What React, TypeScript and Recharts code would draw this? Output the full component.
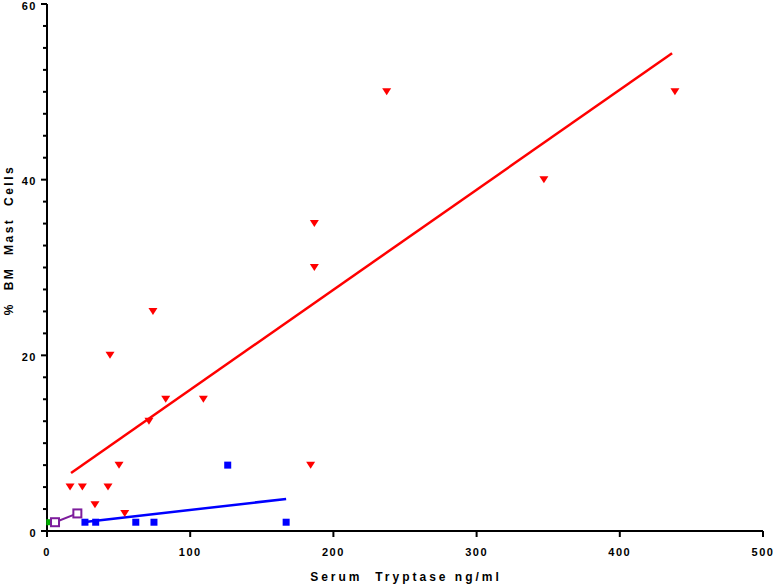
import { ScatterChart, Scatter, XAxis, YAxis } from "recharts";

// values
const redX = [16.1, 24.7, 33.5, 42.6, 50.3, 54.3, 44, 71.2, 74, 82.9, 109.2, 184.1, 186.7, 186.7, 237.2, 347, 438.5];
const redY = [5, 5, 3, 5, 7.5, 2, 20, 12.5, 25, 15, 15, 7.5, 35, 30, 50, 40, 50];
const blueX = [26.5, 34, 62, 74.7, 126.2, 167];
const blueY = [1, 1, 1, 1, 7.5, 1];
const purpleX = [5.6, 21.2];
const purpleY = [1, 2];
const greenX = [1.6];
const greenY = [1];
// fitted lines (end points as drawn)
const redFitX = [16.8, 436.5];
const redFitY = [6.6, 54.4];
const blueFitX = [28, 167];
const blueFitY = [1.05, 3.65];

const xTicks = [0, 100, 200, 300, 400, 500];
const yTicks = [0, 2.5, 5, 7.5, 10, 12.5, 15, 17.5, 20, 22.5, 25, 27.5, 30, 32.5, 35, 37.5, 40, 42.5, 45, 47.5, 50, 52.5, 55, 57.5, 60];
const yMajor = [0, 20, 40, 60];

const zip = (xs: number[], ys: number[]) => xs.map((x, i) => ({ x, y: ys[i] }));
const red = zip(redX, redY);
const blue = zip(blueX, blueY);
const purple = zip(purpleX, purpleY);
const green = zip(greenX, greenY);
const redFit = zip(redFitX, redFitY);
const blueFit = zip(blueFitX, blueFitY);

const RED = "#ff0000";
const BLUE = "#0000ff";
const PURPLE = "#7d1c9c";
const GREEN = "#00b000";
const FONT = "'Liberation Sans', Arial, sans-serif";

const Triangle = (props: any) => {
  const { cx, cy } = props;
  return <path d={`M${cx - 4.5},${cy - 3.5}L${cx + 4.5},${cy - 3.5}L${cx},${cy + 3.5}Z`} fill={RED} />;
};
const BlueSquare = (props: any) => {
  const { cx, cy } = props;
  return <rect x={cx - 3.5} y={cy - 3.5} width={7} height={7} fill={BLUE} />;
};
const OpenSquare = (props: any) => {
  const { cx, cy } = props;
  return <rect x={cx - 4} y={cy - 4} width={8} height={8} fill="#fff" stroke={PURPLE} strokeWidth={2} />;
};
const GreenSquare = (props: any) => {
  const { cx, cy } = props;
  return <rect x={cx - 3} y={cy - 3} width={6} height={6} fill={GREEN} />;
};
const NoShape = () => <g />;

const XTick = (props: any) => {
  const { x, y, payload } = props;
  return (
    <g>
      <line x1={x} y1={y} x2={x} y2={y + 6} stroke="#000" strokeWidth={2} />
      <text x={x} y={y + 25} textAnchor="middle" fontFamily={FONT} fontWeight="bold" fontSize={11} letterSpacing={1.5} fill="#000">
        {payload.value}
      </text>
    </g>
  );
};

const YTick = (props: any) => {
  const { x, y, payload } = props;
  const major = yMajor.includes(payload.value);
  return (
    <g>
      <line x1={x - (major ? 6 : 4)} y1={y} x2={x} y2={y} stroke="#000" strokeWidth={2} />
      {major && (
        <text x={x - 10} y={y + 5.5} textAnchor="end" fontFamily={FONT} fontWeight="bold" fontSize={11} letterSpacing={1.5} fill="#000">
          {payload.value}
        </text>
      )}
    </g>
  );
};

export default function App() {
  return (
    <div style={{ position: "absolute", left: 0, top: 0, background: "#fff" }}>
      <ScatterChart width={773} height={584} margin={{ top: 4, right: 10, bottom: 0, left: 0 }}>
        <XAxis
          type="number"
          dataKey="x"
          domain={[0, 500]}
          ticks={xTicks}
          interval={0}
          height={53}
          tickSize={0}
          tickMargin={0}
          tickLine={false}
          axisLine={{ stroke: "#000", strokeWidth: 2 }}
          tick={<XTick />}
          label={() => (
            <text x={406} y={581} textAnchor="middle" fontFamily={FONT} fontWeight="bold" fontSize={12} letterSpacing={3} fill="#000" style={{ whiteSpace: "pre" }}>
              {"Serum  Tryptase ng/ml"}
            </text>
          )}
        />
        <YAxis
          type="number"
          dataKey="y"
          domain={[0, 60]}
          ticks={yTicks}
          interval={0}
          width={47}
          tickSize={0}
          tickMargin={0}
          tickLine={false}
          axisLine={{ stroke: "#000", strokeWidth: 2 }}
          tick={<YTick />}
          label={() => (
            <text x={13} y={240} transform="rotate(-90 13 240)" textAnchor="middle" fontFamily={FONT} fontWeight="bold" fontSize={12} letterSpacing={2.5} fill="#000" style={{ whiteSpace: "pre" }}>
              {"%  BM  Mast  Cells"}
            </text>
          )}
        />
        <Scatter data={redFit} line={{ stroke: RED, strokeWidth: 2.5 }} shape={<NoShape />} isAnimationActive={false} />
        <Scatter data={blueFit} line={{ stroke: BLUE, strokeWidth: 2.5 }} shape={<NoShape />} isAnimationActive={false} />
        <Scatter data={red} shape={<Triangle />} isAnimationActive={false} />
        <Scatter data={blue} shape={<BlueSquare />} isAnimationActive={false} />
        <Scatter data={green} shape={<GreenSquare />} isAnimationActive={false} />
        <Scatter data={purple} line={{ stroke: PURPLE, strokeWidth: 2 }} shape={<OpenSquare />} isAnimationActive={false} />
      </ScatterChart>
    </div>
  );
}
